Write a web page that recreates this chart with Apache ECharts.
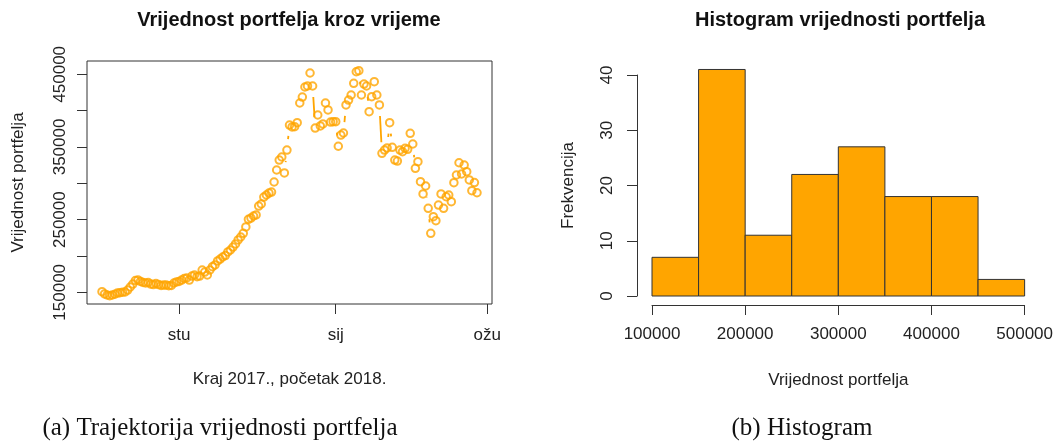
<!DOCTYPE html>
<html>
<head>
<meta charset="utf-8">
<script src="https://cdn.jsdelivr.net/npm/echarts@6/dist/echarts.min.js"></script>
<style>
  html, body { margin: 0; padding: 0; background: #fff; }
  #chart { width: 1056px; height: 444px; }
</style>
</head>
<body>
<div id="chart"></div>
<script>
// dnevna vrijednost portfelja, dan 0 = 2.10.2017.
const vrijednost = [
  150800, 147700, 146300, 145300, 146300, 147300, 149000, 149500, 150100, 150400,
  153000, 157300, 161400, 166200, 167000, 164900, 163500, 162800, 163500, 161400,
  160700, 162100, 160700, 159400, 160000, 160000, 159100, 159400, 162800, 164200,
  164900, 166900, 169000, 169700, 166900, 172400, 173800, 171500, 172400, 180700,
  177900, 173800, 180700, 185200, 187600, 193100, 195800, 198600, 200600, 205500,
  208200, 212300, 216500, 222000, 226100, 231200, 239900, 250500, 252200, 255000,
  256400, 268700, 271500, 281100, 283900, 286600, 288000, 301800, 318300, 332000,
  336200, 314200, 345800, 380200, 377500, 377900, 383400, 410500, 418700, 432500,
  433900, 451800, 433900, 376000, 394000, 379000, 381700, 410500, 400900, 384300,
  384800, 384800, 351000, 366400, 369200, 407800, 414600, 421500, 437600, 453500,
  455000, 421500, 436600, 433900, 398500, 419200, 439800, 421500, 407800, 341300,
  345800, 348700, 383400, 349500, 332000, 330600, 345800, 343500, 348100, 346800,
  368800, 354100, 320600, 329700, 302200, 285300, 296300, 265600, 231200, 254000,
  248500, 270100, 285300, 265600, 281500, 283900, 274700, 300800, 311400, 328300,
  312800, 325100, 316000, 304600, 289800, 301000, 287000
];

// oznake mjeseci (dan od pocetka)
const mjesecDani = [30, 91, 150];
const mjesecOznake = ['stu', 'sij', 'ožu'];

const yTickovi = [150000, 200000, 250000, 300000, 350000, 400000, 450000];
const yOznake = [150000, 250000, 350000, 450000];

// histogram
const histGranice = [100000, 150000, 200000, 250000, 300000, 350000, 400000, 450000, 500000];
const histFrekv = [7, 41, 11, 22, 27, 18, 18, 3];

const NARANCASTA = '#FFA500';
const CRNA = '#333';
const FONT = '"Liberation Sans", Arial, sans-serif';
const SERIF = '"Liberation Serif", "DejaVu Serif", serif';

const tocke = vrijednost.map((v, i) => [i, v]);
const segmenti = [];
for (let i = 0; i < vrijednost.length - 1; i++) {
  segmenti.push([i, vrijednost[i], i + 1, vrijednost[i + 1]]);
}
const stupci = histFrekv.map((f, i) => [histGranice[i], histGranice[i + 1], f]);

const RAZMAK = 11; // kao type="b" u R-u

const chart = echarts.init(document.getElementById('chart'));

const labelStil = { color: '#222', fontSize: 17, fontFamily: FONT };
const broj = function (v) { return String(v); };

function tekst(x, y, t, font) {
  return {
    type: 'text', x: x, y: y,
    style: { text: t, font: font, fill: '#111', align: 'center', textAlign: 'center', verticalAlign: 'middle', textVerticalAlign: 'middle' }
  };
}

const option = {
  animation: false,
  graphic: [
    tekst(289, 20, 'Vrijednost portfelja kroz vrijeme', 'bold 20px ' + FONT),
    tekst(840, 20, 'Histogram vrijednosti portfelja', 'bold 20px ' + FONT),
    tekst(220, 428, '(a) Trajektorija vrijednosti portfelja', '25px ' + SERIF),
    tekst(802, 428, '(b) Histogram', '25px ' + SERIF)
  ],
  grid: [
    { left: 87, top: 61, width: 405, height: 243, show: true, borderColor: CRNA, borderWidth: 1, backgroundColor: 'transparent' },
    { left: 652, top: 75, width: 376, height: 221 }
  ],
  xAxis: [
    {
      type: 'value',
      gridIndex: 0,
      min: -5.84,
      max: 151.84,
      axisLine: { show: false, onZero: false },
      splitLine: { show: false },
      axisTick: { customValues: mjesecDani, length: 10, lineStyle: { color: CRNA } },
      axisLabel: Object.assign({
        customValues: mjesecDani,
        margin: 23,
        formatter: function (v) {
          const idx = mjesecDani.indexOf(v);
          return idx >= 0 ? mjesecOznake[idx] : '';
        }
      }, labelStil),
      name: 'Kraj 2017., početak 2018.',
      nameLocation: 'middle',
      nameGap: 67,
      nameTextStyle: labelStil
    },
    {
      type: 'value',
      gridIndex: 1,
      min: 100000,
      max: 500000,
      interval: 100000,
      offset: 9,
      axisLine: { show: true, onZero: false, lineStyle: { color: CRNA } },
      splitLine: { show: false },
      axisTick: { length: 10, lineStyle: { color: CRNA } },
      axisLabel: Object.assign({ margin: 21, formatter: broj }, labelStil),
      name: 'Vrijednost portfelja',
      nameLocation: 'middle',
      nameGap: 67,
      nameTextStyle: labelStil
    }
  ],
  yAxis: [
    {
      type: 'value',
      gridIndex: 0,
      min: 133900,
      max: 468300,
      axisLine: { show: false, onZero: false },
      splitLine: { show: false },
      axisTick: { customValues: yTickovi, length: 10, lineStyle: { color: CRNA } },
      axisLabel: Object.assign({ customValues: yOznake, rotate: 90, margin: 18, formatter: broj }, labelStil),
      name: 'Vrijednost portfelja',
      nameLocation: 'middle',
      nameRotate: 90,
      nameGap: 60,
      nameTextStyle: labelStil
    },
    {
      type: 'value',
      gridIndex: 1,
      min: 0,
      max: 40,
      interval: 10,
      offset: 15,
      axisLine: { show: true, onZero: false, lineStyle: { color: CRNA } },
      splitLine: { show: false },
      axisTick: { length: 10, lineStyle: { color: CRNA } },
      axisLabel: Object.assign({ rotate: 90, margin: 21 }, labelStil),
      name: 'Frekvencija',
      nameLocation: 'middle',
      nameRotate: 90,
      nameGap: 60,
      nameTextStyle: labelStil
    }
  ],
  series: [
    {
      // linije izmedu tocaka s prazninom oko svake tocke
      type: 'custom',
      xAxisIndex: 0,
      yAxisIndex: 0,
      data: segmenti,
      renderItem: function (params, api) {
        const p0 = api.coord([api.value(0), api.value(1)]);
        const p1 = api.coord([api.value(2), api.value(3)]);
        const dx = p1[0] - p0[0];
        const dy = p1[1] - p0[1];
        const d = Math.sqrt(dx * dx + dy * dy);
        if (d <= 2 * RAZMAK) return { type: 'group', children: [] };
        const f = RAZMAK / d;
        return {
          type: 'line',
          shape: { x1: p0[0] + f * dx, y1: p0[1] + f * dy, x2: p1[0] - f * dx, y2: p1[1] - f * dy },
          style: { stroke: NARANCASTA, lineWidth: 1.8 }
        };
      },
      silent: true
    },
    {
      type: 'scatter',
      xAxisIndex: 0,
      yAxisIndex: 0,
      data: tocke,
      symbol: 'circle',
      symbolSize: 7.5,
      itemStyle: { color: 'rgba(0,0,0,0)', borderColor: NARANCASTA, borderWidth: 2 },
      silent: true
    },
    {
      type: 'custom',
      xAxisIndex: 1,
      yAxisIndex: 1,
      data: stupci,
      renderItem: function (params, api) {
        const a = api.coord([api.value(0), 0]);
        const b = api.coord([api.value(1), api.value(2)]);
        return {
          type: 'rect',
          shape: { x: a[0], y: b[1], width: b[0] - a[0], height: a[1] - b[1] },
          style: { fill: NARANCASTA, stroke: CRNA, lineWidth: 1 }
        };
      },
      silent: true
    }
  ]
};

chart.setOption(option);
</script>
</body>
</html>
